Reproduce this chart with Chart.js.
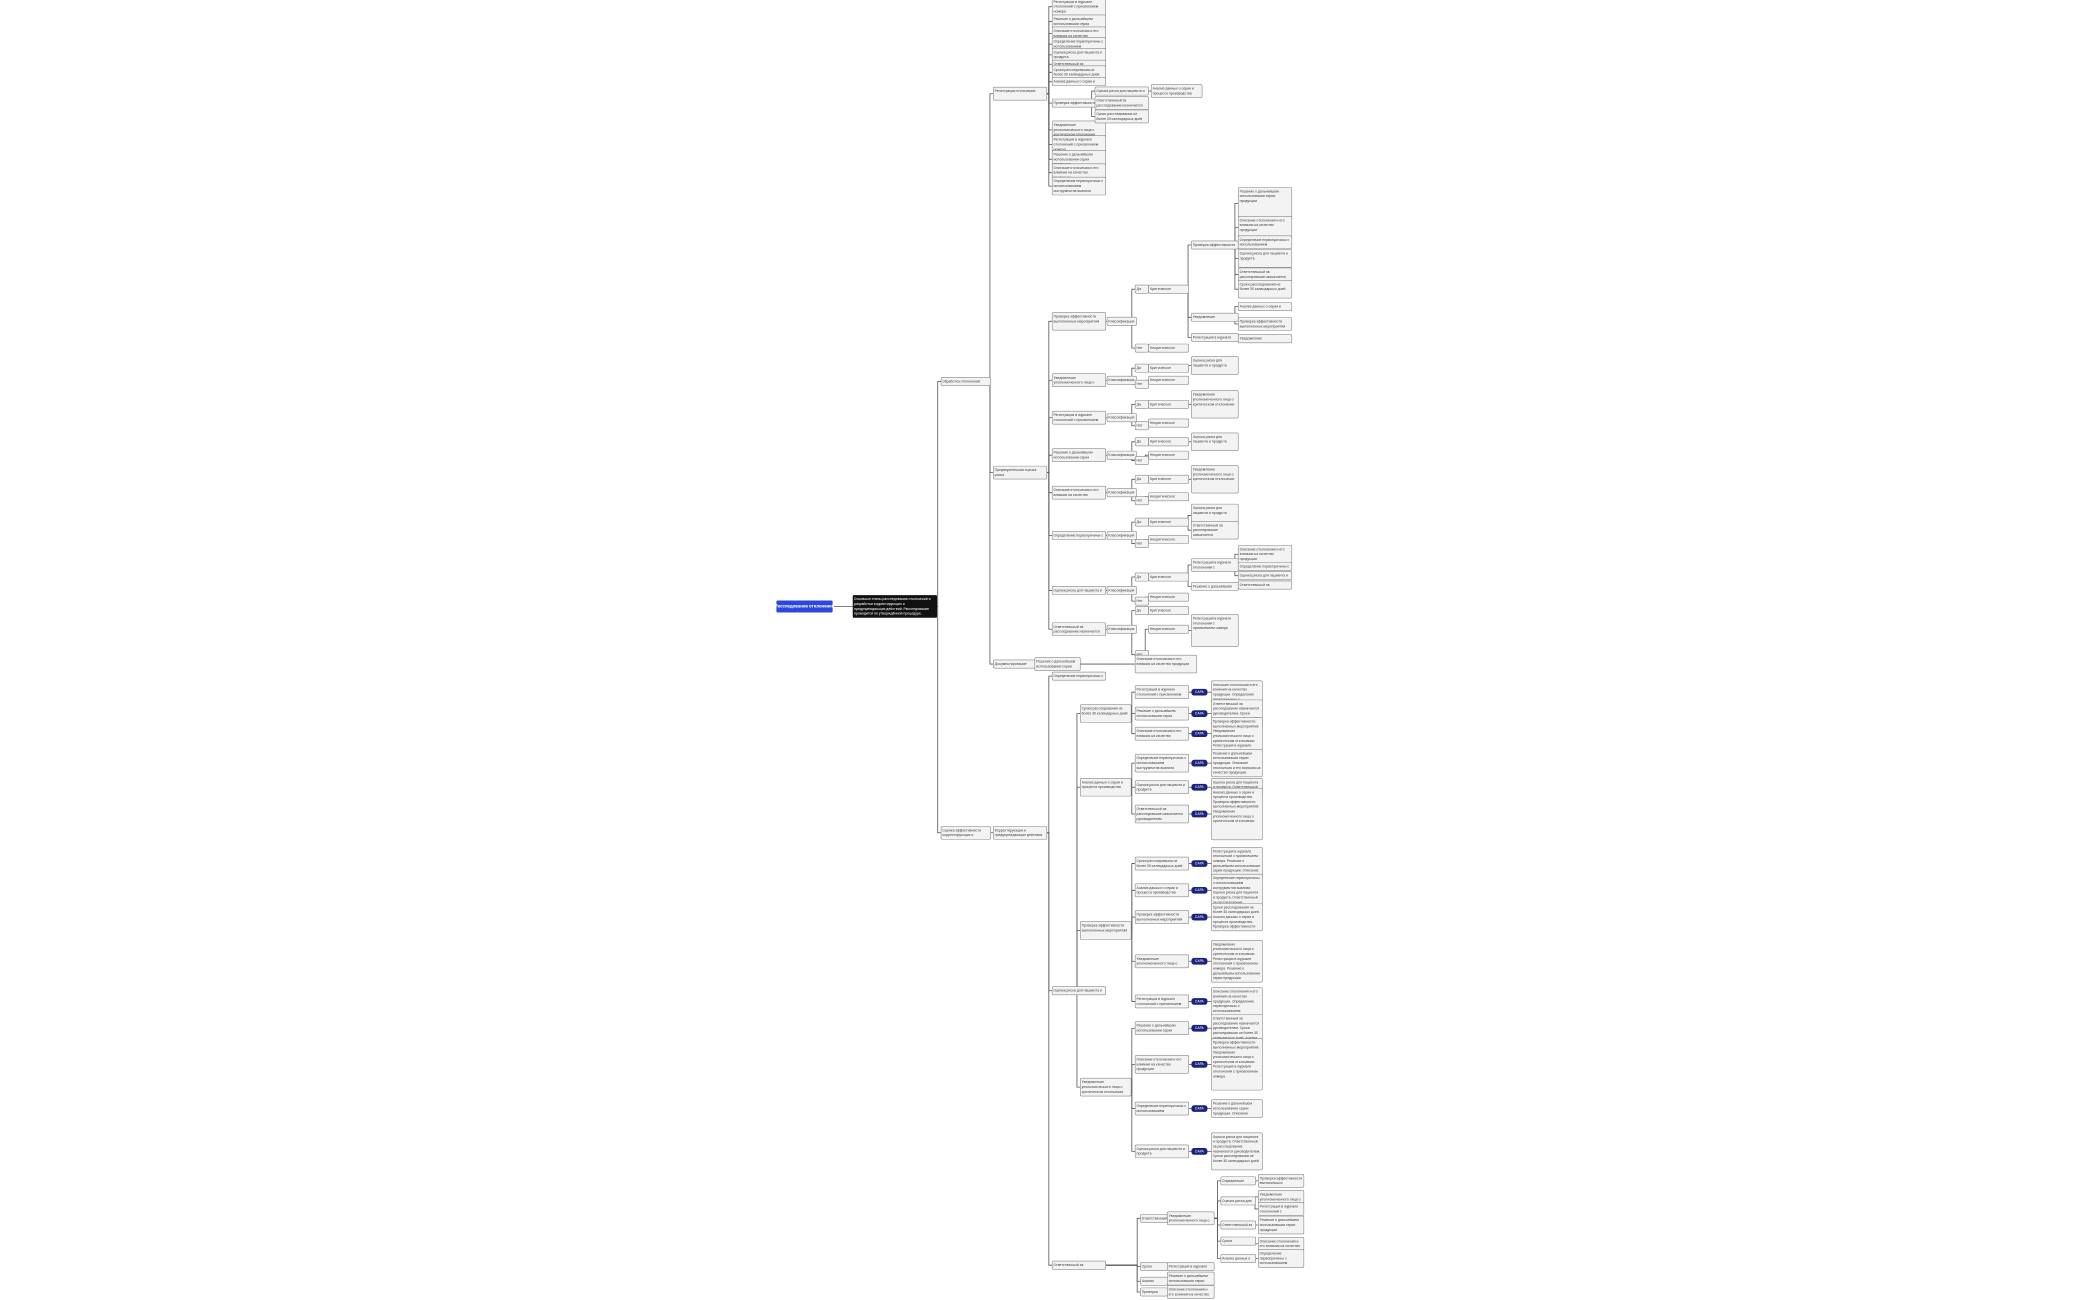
<!DOCTYPE html>
<html><head><meta charset="utf-8">
<script src="https://cdn.jsdelivr.net/npm/chart.js@4.4.1/dist/chart.umd.min.js"></script>
<style>html,body{margin:0;background:#fff}#wrap{width:2099px;height:1300px}</style>
</head><body><div id="wrap"><canvas id="map"></canvas></div>
<script>
// columns: left x and box width (chart units, view of 1568 x 971)
const colX = [580,637,703,742,786,818,860,827,848,858,890,925,807,848,890,905,852,872,912,940,773,848];
const colW = [42, 63, 37, 40, 40, 40, 38, 22, 10, 30, 35, 40, 38, 40, 12, 38, 20, 35, 26, 34, 34, 46];

const phrases = [
  "Описание отклонения и его влияния на качество продукции",
  "Определение первопричины с использованием инструментов анализа",
  "Оценка риска для пациента и продукта",
  "Ответственный за расследование назначается руководителем",
  "Сроки расследования не более 30 календарных дней",
  "Анализ данных о серии и процесса производства",
  "Проверка эффективности выполненных мероприятий",
  "Уведомление уполномоченного лица о критическом отклонении",
  "Регистрация в журнале отклонений с присвоением номера",
  "Решение о дальнейшем использовании серии продукции"
];

// [id, parent, column, y, lines, text]
const nodes = [
  ["root","",0,453,1,"Расследование отклонений"],
  ["ov","root",1,453,4,"Основные этапы расследования отклонений и разработки корректирующих и предупреждающих действий. Расследование проводится по утверждённой процедуре, результаты документируются"],
  ["a","ov",2,285,1,"Обработка отклонений (общие сведения)"],
  ["b","ov",2,622,2,"Оценка эффективности корректирующих и предупреждающих действий"],
  ["a1","a",3,70,2,"Регистрация отклонения"],
  ["a2","a",3,353,2,"Предварительная оценка риска"],
  ["a3","a",3,496,1,"Документирование"],
  ["b1","b",3,622,2,"Корректирующие и предупреждающие действия"],
  ["a1a","a1",4,5,3,""],["a1b","a1",4,16,2,""],["a1c","a1",4,25,2,""],["a1d","a1",4,33,2,""],
  ["a1e","a1",4,41,2,""],["a1f","a1",4,48,1,""],["a1g","a1",4,54,2,""],["a1h","a1",4,61,1,""],
  ["a1i","a1",4,77,1,""],["a1j","a1",4,97,3,""],["a1k","a1",4,108,3,""],["a1l","a1",4,119,3,""],
  ["a1m","a1",4,129,3,""],["a1n","a1",4,139,3,""],
  ["a1i1","a1i",5,68,1,""],["a1i2","a1i",5,77,2,""],["a1i3","a1i",5,87,2,""],["a1i1a","a1i1",6,68,2,""],
  ["c1","a2",4,240,3,""],["c2","a2",4,284,2,""],["c3","a2",4,312,2,""],["c4","a2",4,340,2,""],
  ["c5","a2",4,368,2,""],["c6","a2",4,400,1,""],["c7","a2",4,441,1,""],["c8","a2",4,470,2,""],
  ["c1k","c1",7,240,1,"Классификация"],["c2k","c2",7,284,1,"Классификация"],["c3k","c3",7,312,1,"Классификация"],
  ["c4k","c4",7,340,1,"Классификация"],["c5k","c5",7,368,1,"Классификация"],["c6k","c6",7,400,1,"Классификация"],
  ["c7k","c7",7,441,1,"Классификация"],["c8k","c8",7,470,1,"Классификация"],
  ["c1y","c1k",8,216,1,"Да"],["c1n","c1k",8,260,1,"Нет"],["c1y1","c1y",9,216,1,"Критическое"],["c1n1","c1n",9,260,1,"Некритическое"],
  ["c1t1","c1y1",10,183,1,""],["c1t2","c1y1",10,237,1,""],["c1t3","c1y1",10,252,1,""],
  ["c1u1","c1t1",11,152,6,""],["c1u2","c1t1",11,170,4,""],["c1u3","c1t1",11,181,2,""],["c1u4","c1t1",11,193,3,""],
  ["c1u5","c1t1",11,205,2,""],["c1u6","c1t1",11,216,3,""],["c1u7","c1t2",11,229,1,""],["c1u8","c1t2",11,242,2,""],["c1u9","c1t3",11,253,1,""],
  ["c2y","c2k",8,275,1,"Да"],["c2n","c2k",8,287,1,"Нет"],["c2y1","c2y",9,275,1,"Критическое"],["c2n1","c2n",9,284,1,"Некритическое"],["c2t","c2y1",10,273,3,""],
  ["c3y","c3k",8,302,1,"Да"],["c3n","c3k",8,318,1,"Нет"],["c3y1","c3y",9,302,1,"Критическое"],["c3n1","c3n",9,316,1,"Некритическое"],["c3t","c3y1",10,302,5,""],
  ["c4y","c4k",8,330,1,"Да"],["c4n","c4k",8,344,1,"Нет"],["c4y1","c4y",9,330,1,"Критическое"],["c4n1","c4n",9,340,1,"Некритическое"],["c4t","c4y1",10,330,3,""],
  ["c5y","c5k",8,358,1,"Да"],["c5n","c5k",8,374,1,"Нет"],["c5y1","c5y",9,358,1,"Критическое"],["c5n1","c5n",9,371,1,"Некритическое"],["c5t","c5y1",10,358,5,""],
  ["c6y","c6k",8,390,1,"Да"],["c6n","c6k",8,406,1,"Нет"],["c6y1","c6y",9,390,1,"Критическое"],["c6n1","c6n",9,403,1,"Некритическое"],
  ["c6t","c6y1",10,385,4,""],["c6t2","c6y1",10,396,3,""],
  ["c7y","c7k",8,431,1,"Да"],["c7n","c7k",8,449,1,"Нет"],["c7y1","c7y",9,431,1,"Критическое"],["c7n1","c7n",9,446,1,"Некритическое"],
  ["c7t","c7y1",10,422,2,""],["c7t2","c7y1",10,438,1,""],["c7v1","c7t",11,414,3,""],["c7v2","c7t",11,423,1,""],["c7v3","c7t",11,430,1,""],["c7v4","c7t2",11,437,1,""],
  ["c8y","c8k",8,456,1,"Да"],["c8n","c8k",8,489,1,"Нет"],["c8y1","c8y",9,456,1,"Критическое"],["c8n1","c8n",9,470,1,"Некритическое"],["c8t","c8n1",10,471,6,""],
  ["a3a","a3",20,496,2,""],["a3b","a3a",21,496,3,""],
  ["b1a","b1",4,505,1,""],["b1b","b1",4,740,1,""],["b1c","b1",4,945,1,""],
  ["d1","b1b",12,533,3,""],["d2","b1b",12,588,3,""],["d3","b1b",12,695,3,""],["d4","b1b",12,812,3,""],
  ["d1a","d1",13,517,2,""],["d1b","d1",13,533,2,""],["d1c","d1",13,548,2,""],
  ["d2a","d2",13,570,3,""],["d2b","d2",13,588,2,""],["d2c","d2",13,608,3,""],
  ["d3a","d3",13,645,2,""],["d3b","d3",13,665,2,""],["d3c","d3",13,685,2,""],["d3d","d3",13,718,2,""],["d3e","d3",13,748,2,""],
  ["d4a","d4",13,768,2,""],["d4b","d4",13,795,3,""],["d4c","d4",13,828,2,""],["d4d","d4",13,860,2,""],
  ["e1","b1c",16,910,1,""],["e2","b1c",16,946,1,""],["e3","b1c",16,957,1,""],["e4","b1c",16,965,1,""],
  ["e1a","e1",17,910,2,""],["e2a","e2",17,946,1,""],["e3a","e3",17,955,2,""],["e4a","e4",17,965,2,""],
  ["f1","e1a",18,882,1,""],["f2","e1a",18,897,1,""],["f3","e1a",18,915,1,""],["f4","e1a",18,927,1,""],["f5","e1a",18,940,1,""],
  ["f1a","f1",19,882,2,""],["f2a","f2",19,894,2,""],["f2b","f2",19,903,2,""],["f3a","f3",19,915,3,""],["f4a","f4",19,929,2,""],["f5a","f5",19,940,3,""]
];
// tag + text leaves for CAPA items: [parent, text lines]
const tagged = [["d1a",4],["d1b",5],["d1c",6],["d2a",5],["d2b",3],["d2c",10],["d3a",6],["d3b",6],["d3c",5],
  ["d3d",8],["d3e",5],["d4a",5],["d4b",10],["d4c",3],["d4d",7]];
</script>
<script>
const byId = {};
const list = nodes.map((n, i) => {
  const o = {id:n[0], parent:n[1], col:n[2], y:n[3], lines:n[4], text:n[5] || phrases[i % phrases.length], style:n[0]=="root"?"root":(n[0]=="ov"?"dark":"box")};
  byId[o.id] = o; return o;
});
tagged.forEach((t, i) => {
  const p = byId[t[0]];
  const tag = {id:t[0]+"_tag", parent:t[0], col:14, y:p.y, lines:1, text:"CAPA", style:"tag"};
  const txt = {id:t[0]+"_txt", parent:tag.id, col:15, y:p.y, lines:t[1], text:phrases[(i*3) % phrases.length] + ". " + phrases[(i*3+1) % phrases.length] + ". " + phrases[(i*3+2) % phrases.length], style:"box"};
  byId[tag.id] = tag; byId[txt.id] = txt; list.push(tag, txt);
});

function boxOf(n, xs, ys, k) {
  const lineH = 3.6 * k;
  const h = (n.style=="root" ? 9 : n.style=="tag" ? 5 : n.lines*3.6 + 2.5) * k;
  const x = xs.getPixelForValue(colX[n.col]);
  const w = xs.getPixelForValue(colX[n.col] + colW[n.col]) - x;
  const cy = ys.getPixelForValue(n.y);
  return {x, y: cy - h/2, w, h, cy, lineH};
}

const mapPlugin = {
  id: "mindmap",
  afterDatasetsDraw(chart) {
    const ctx = chart.ctx, xs = chart.scales.x, ys = chart.scales.y;
    const k = chart.width / 1568;
    const boxes = {};
    list.forEach(n => boxes[n.id] = boxOf(n, xs, ys, k));
    ctx.save();
    ctx.strokeStyle = "#555"; ctx.lineWidth = 0.8;
    list.forEach(n => {
      if (!n.parent || !boxes[n.parent]) return;
      const p = boxes[n.parent], c = boxes[n.id];
      const sx = p.x + p.w, mx = c.x - 2.5 * k;
      ctx.beginPath();
      ctx.moveTo(sx, p.cy); ctx.lineTo(mx, p.cy); ctx.lineTo(mx, c.cy); ctx.lineTo(c.x, c.cy);
      ctx.stroke();
    });
    list.forEach(n => {
      const b = boxes[n.id];
      if (n.style == "root") ctx.fillStyle = "#2b47e0";
      else if (n.style == "dark") ctx.fillStyle = "#111";
      else if (n.style == "tag") ctx.fillStyle = "#1a237e";
      else ctx.fillStyle = "#f3f3f3";
      ctx.beginPath(); ctx.roundRect(b.x, b.y, b.w, b.h, (n.style=="tag" ? 2 : 1) * k); ctx.fill();
      if (n.style == "box") { ctx.strokeStyle = "#888"; ctx.lineWidth = 0.6; ctx.stroke(); }
      ctx.fillStyle = n.style=="box" ? "#444" : "#fff";
      ctx.font = n.style=="root" ? "bold " + (3.4*k) + "px Roboto" : (2.6*k) + "px Roboto";
      ctx.textBaseline = "middle";
      if (n.style == "root" || n.style == "tag") {
        ctx.textAlign = "center"; ctx.fillText(n.text, b.x + b.w/2, b.cy); ctx.textAlign = "left";
        return;
      }
      const words = n.text.split(" "); let line = "", out = [];
      words.forEach(w => { const t = line ? line + " " + w : w;
        if (ctx.measureText(t).width > b.w - 2*k && line) { out.push(line); line = w; } else line = t; });
      if (line) out.push(line);
      out.slice(0, n.lines).forEach((l, i) => ctx.fillText(l, b.x + k, b.y + 1.3*k + b.lineH*(i+0.5)));
    });
    ctx.restore();
  }
};

new Chart(document.getElementById("map"), {
  type: "scatter",
  data: { datasets: [{ data: list.map(n => ({x: colX[n.col], y: n.y})), pointRadius: 0 }] },
  options: {
    responsive: true, maintainAspectRatio: false, animation: false, devicePixelRatio: 2,
    layout: { padding: 0 },
    plugins: { legend: { display: false }, tooltip: { enabled: false } },
    scales: {
      x: { type: "linear", min: 0, max: 1568, display: false },
      y: { type: "linear", min: 0, max: 971, reverse: true, display: false }
    }
  },
  plugins: [mapPlugin]
});
</script>
</body></html>
